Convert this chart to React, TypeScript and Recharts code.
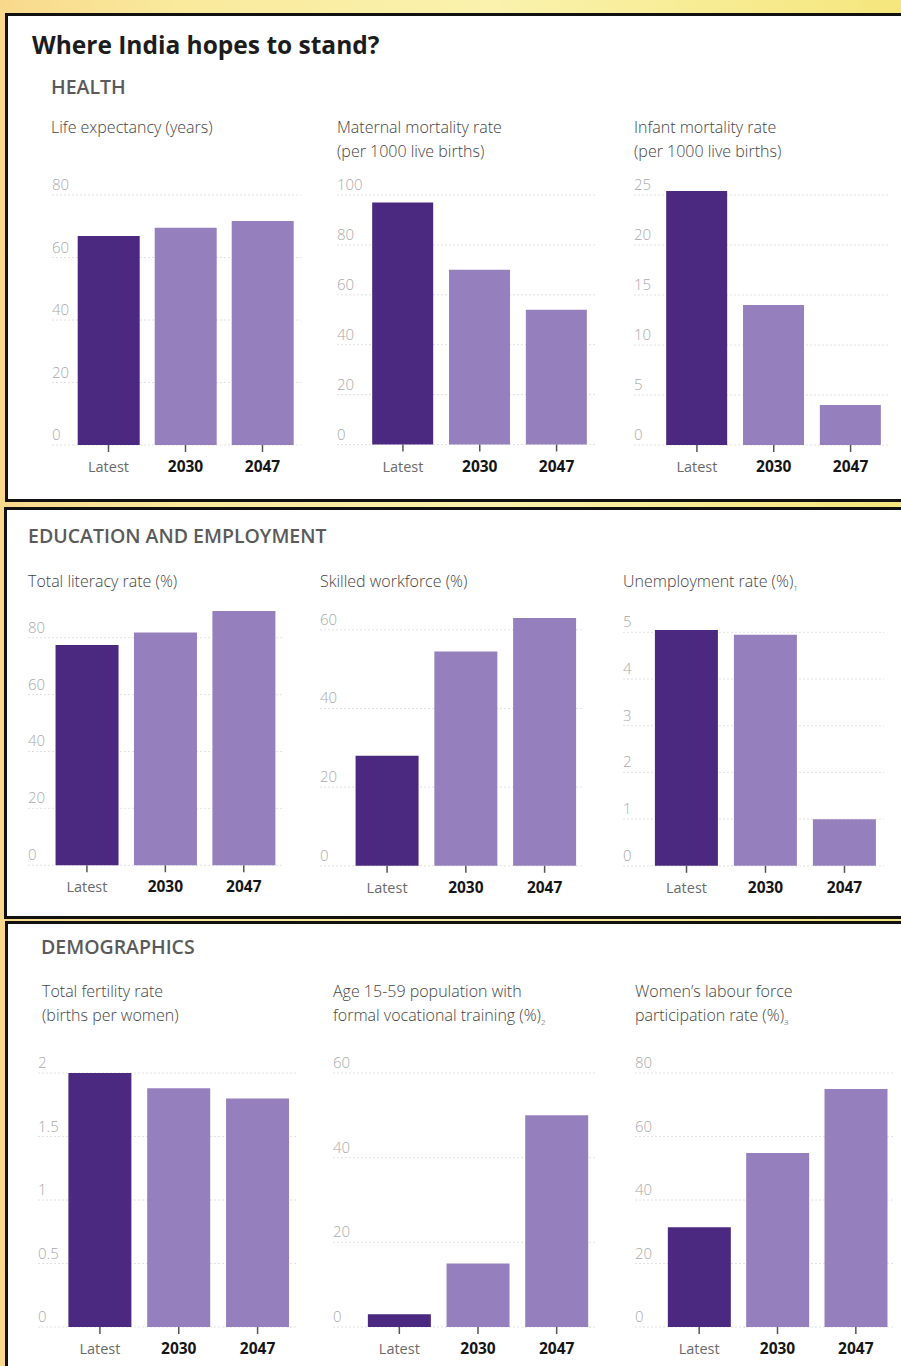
import React from 'react';
import { BarChart, Bar, XAxis, YAxis, CartesianGrid, Cell } from 'recharts';

// ---------- data ----------
const categories = ['Latest', '2030', '2047'];

const lifeExpectancy = [66.9, 69.5, 71.7];
const maternalMortality = [97, 70, 54];
const infantMortality = [25.4, 14, 4];
const literacyRate = [77.4, 81.8, 89.4];
const skilledWorkforce = [28, 54.5, 63];
const unemploymentRate = [5.05, 4.95, 1];
const fertilityRate = [2, 1.88, 1.8];
const vocationalTraining = [3, 15, 50];
const womenLabourForce = [31.4, 54.8, 75];

const lifeTicks = [0, 20, 40, 60, 80];
const maternalTicks = [0, 20, 40, 60, 80, 100];
const infantTicks = [0, 5, 10, 15, 20, 25];
const literacyTicks = [0, 20, 40, 60, 80];
const skilledTicks = [0, 20, 40, 60];
const unemploymentTicks = [0, 1, 2, 3, 4, 5];
const fertilityTicks = [0, 0.5, 1, 1.5, 2];
const vocationalTicks = [0, 20, 40, 60];
const womenTicks = [0, 20, 40, 60, 80];

const pageTitle = 'Where India hopes to stand?';
const sectionTitles = ['HEALTH', 'EDUCATION AND EMPLOYMENT', 'DEMOGRAPHICS'];

// ---------- styles / layout ----------
const FONT = '"Open Sans", "Noto Sans", sans-serif';
const DARK = '#4b2981';
const LIGHT = '#9580bd';

type ChartSpec = {
  title: React.ReactNode[];
  values: number[];
  ticks: number[];
  titleX: number;
  titleY: number;
  gridLeft: number;
  gridRight: number;
  bandLeft: number;
  maxTickY: number;
  zeroY: number;
};

const sup = (s: string) => (
  <span style={{ fontSize: 8, verticalAlign: 'sub' }}>{s}</span>
);

const charts: ChartSpec[] = [
  { title: ['Life expectancy (years)'], values: lifeExpectancy, ticks: lifeTicks, titleX: 51, titleY: 115, gridLeft: 52, gridRight: 301, bandLeft: 70, maxTickY: 195, zeroY: 445 },
  { title: ['Maternal mortality rate', '(per 1000 live births)'], values: maternalMortality, ticks: maternalTicks, titleX: 337, titleY: 115, gridLeft: 337, gridRight: 595, bandLeft: 364.5, maxTickY: 195, zeroY: 444.5 },
  { title: ['Infant mortality rate', '(per 1000 live births)'], values: infantMortality, ticks: infantTicks, titleX: 634, titleY: 115, gridLeft: 634, gridRight: 889, bandLeft: 658.5, maxTickY: 194.5, zeroY: 444.5 },
  { title: ['Total literacy rate (%)'], values: literacyRate, ticks: literacyTicks, titleX: 28, titleY: 569, gridLeft: 28, gridRight: 283, bandLeft: 47.7, maxTickY: 638, zeroY: 865.5 },
  { title: ['Skilled workforce (%)'], values: skilledWorkforce, ticks: skilledTicks, titleX: 320, titleY: 569, gridLeft: 320, gridRight: 584, bandLeft: 347.7, maxTickY: 629.5, zeroY: 865.5 },
  { title: [<>Unemployment rate (%){sup('1')}</>], values: unemploymentRate, ticks: unemploymentTicks, titleX: 623, titleY: 569, gridLeft: 623, gridRight: 884, bandLeft: 647, maxTickY: 632, zeroY: 865.5 },
  { title: ['Total fertility rate', '(births per women)'], values: fertilityRate, ticks: fertilityTicks, titleX: 42, titleY: 979, gridLeft: 38, gridRight: 297, bandLeft: 60.5, maxTickY: 1073, zeroY: 1327 },
  { title: ['Age 15-59 population with', <>formal vocational training (%){sup('2')}</>], values: vocationalTraining, ticks: vocationalTicks, titleX: 333, titleY: 979, gridLeft: 333, gridRight: 596, bandLeft: 360, maxTickY: 1073, zeroY: 1327 },
  { title: ['Women\u2019s labour force', <>participation rate (%){sup('3')}</>], values: womenLabourForce, ticks: womenTicks, titleX: 635, titleY: 979, gridLeft: 635, gridRight: 895, bandLeft: 660, maxTickY: 1073, zeroY: 1327 },
];

const YTick = (props: any) => {
  const { y, payload } = props;
  return (
    <text x={0} y={y - 5} fill="#a9a9a9" fontSize={15} fontFamily={FONT} fontWeight={300} textAnchor="start">
      {String(payload.value)}
    </text>
  );
};

const XTick = (props: any) => {
  const { x, y, payload } = props;
  const isLatest = payload.value === 'Latest';
  return (
    <text
      x={x}
      y={y + 18}
      textAnchor="middle"
      fontFamily={FONT}
      fontSize={isLatest ? 14.5 : 15.5}
      fontWeight={isLatest ? 400 : 700}
      fill={isLatest ? '#6a6a6a' : '#151515'}
    >
      {payload.value}
    </text>
  );
};

const MiniChart = ({ spec }: { spec: ChartSpec }) => {
  const maxTick = spec.ticks[spec.ticks.length - 1];
  const pxPerUnit = (spec.zeroY - spec.maxTickY) / maxTick;
  const domainTop = Math.max(maxTick, ...spec.values);
  const plotTop = spec.zeroY - domainTop * pxPerUnit;
  const mTop = 24;
  const mBottom = 40;
  const width = spec.gridRight - spec.gridLeft;
  const height = mTop + (spec.zeroY - plotTop) + mBottom;
  const data = categories.map((c, i) => ({ name: c, value: spec.values[i] }));
  return (
    <div style={{ position: 'absolute', left: spec.gridLeft, top: plotTop - mTop }}>
      <BarChart width={width} height={height} data={data} margin={{ top: mTop, right: 0, bottom: mBottom - 30, left: 0 }} barCategoryGap="10%">
        <CartesianGrid vertical={false} stroke="#e2e2e2" strokeDasharray="2 2" horizontalValues={spec.ticks} />
        <YAxis
          type="number"
          domain={[0, domainTop]}
          ticks={spec.ticks}
          interval={0}
          mirror
          width={30}
          tickSize={0}
          tickMargin={0}
          axisLine={false}
          tickLine={false}
          tick={<YTick />}
        />
        <XAxis
          dataKey="name"
          height={30}
          axisLine={false}
          tickSize={7}
          tickMargin={2}
          tickLine={{ stroke: '#555', strokeWidth: 1.5 }}
          interval={0}
          padding={{ left: spec.bandLeft - spec.gridLeft, right: 0 }}
          tick={<XTick />}
        />
        <Bar dataKey="value" isAnimationActive={false}>
          {data.map((d, i) => (
            <Cell key={d.name} fill={i === 0 ? DARK : LIGHT} />
          ))}
        </Bar>
      </BarChart>
    </div>
  );
};

const Panel = ({ top, height, left }: { top: number; height: number; left: number }) => (
  <div
    style={{
      position: 'absolute',
      left,
      top,
      width: 910,
      height,
      background: '#fff',
      border: '3px solid #111',
      boxSizing: 'border-box',
    }}
  />
);

const Text = ({ x, y, size, weight, color, children, lh }: any) => (
  <div
    style={{
      position: 'absolute',
      left: x,
      top: y,
      fontFamily: FONT,
      fontSize: size,
      fontWeight: weight,
      color,
      lineHeight: lh ? `${lh}px` : 'normal',
      whiteSpace: 'nowrap',
    }}
  >
    {children}
  </div>
);

export default function App() {
  return (
    <div
      style={{
        position: 'absolute',
        left: 0,
        top: 0,
        width: 901,
        height: 1366,
        overflow: 'hidden',
        background: 'linear-gradient(90deg, #f8d98c 0%, #f9ea9c 20%, #faf2ad 55%, #f5e67c 100%)',
      }}
    >
      <Panel left={5} top={13} height={489} />
      <Panel left={4} top={507} height={412} />
      <Panel left={5} top={921} height={460} />

      <Text x={32} y={28} size={24.5} weight={700} color="#1c1c1c" lh={34}>
        {pageTitle}
      </Text>
      <Text x={51} y={74} size={19.5} weight={600} color="#5a5a5a" lh={26}>{sectionTitles[0]}</Text>
      <Text x={28} y={523} size={19.5} weight={600} color="#5a5a5a" lh={26}>{sectionTitles[1]}</Text>
      <Text x={41} y={934} size={19.5} weight={600} color="#5a5a5a" lh={26}>{sectionTitles[2]}</Text>

      {charts.map((c, i) => (
        <Text key={'t' + i} x={c.titleX} y={c.titleY} size={16} weight={300} color="#444" lh={24}>
          {c.title.map((line, j) => (
            <div key={j}>{line}</div>
          ))}
        </Text>
      ))}

      {charts.map((c, i) => (
        <MiniChart key={i} spec={c} />
      ))}
    </div>
  );
}
